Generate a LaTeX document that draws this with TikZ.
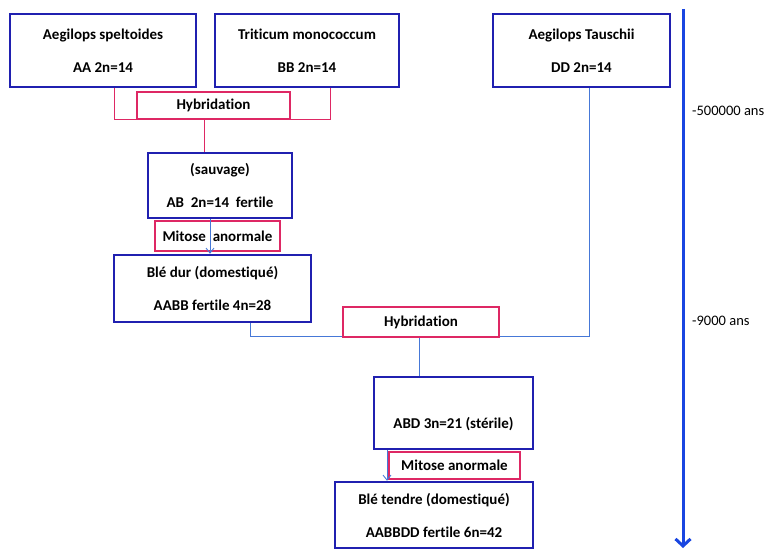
\documentclass[tikz,border=0pt]{standalone}
\usepackage{fontspec}
\setmainfont[RawFeature={-liga;-clig;-dlig}]{Carlito}
\usetikzlibrary{positioning,arrows.meta}

\definecolor{bleucadre}{RGB}{32,32,176}
\definecolor{rose}{RGB}{222,40,100}
\definecolor{bleulien}{RGB}{70,120,215}
\definecolor{bleuaxe}{RGB}{25,70,225}

\tikzset{
  espece/.style={draw=bleucadre,line width=2.4pt,align=center,inner sep=0pt,
    font=\bfseries\fontsize{15}{33}\selectfont},
  hybride/.style={draw=rose,line width=2.2pt,inner sep=0pt,font=\bfseries\fontsize{15}{16}\selectfont},
  mitose/.style={draw=rose,line width=1.2pt,inner sep=0pt,font=\bfseries\fontsize{15}{16}\selectfont},
  lienrose/.style={draw=rose,line width=0.8pt},
  lienbleu/.style={draw=bleulien,line width=0.9pt},
  epoque/.style={anchor=west,inner sep=0pt,font=\fontsize{14.5}{16}\selectfont},
}

\begin{document}
\begin{tikzpicture}[x=1pt,y=-1pt,>={Straight Barb[length=5pt,width=8pt]}]
  \useasboundingbox (0,0) rectangle (766,551);

  % especes de depart
  \node[espece,minimum width=186,minimum height=73] (speltoides) at (103,50.5) {Aegilops speltoides\\AA 2n=14};
  \node[espece,minimum width=184,minimum height=73] (monococcum) at (307,50.5) {Triticum monococcum\\BB 2n=14};
  \node[espece,minimum width=177,minimum height=73] (tauschii) at (581.5,50.5) {Aegilops Tauschii\\DD 2n=14};

  % premiere hybridation
  \node[hybride,minimum width=153,minimum height=27] (hyb1) at (213.5,105.5) {Hybridation};
  \node[espece,minimum width=144,minimum height=65] (sauvage) at (220,185.5) {(sauvage)\\AB\ \ 2n=14\ \ fertile};
  \node[mitose,minimum width=125,minimum height=30] (mitose1) at (217.5,236) {Mitose\ \ anormale};
  \node[espece,minimum width=197,minimum height=67] (dur) at (212.5,288.5) {Blé dur (domestiqué)\\AABB fertile 4n=28};

  % seconde hybridation
  \node[hybride,minimum width=156,minimum height=30] (hyb2) at (421,322) {Hybridation};
  \node[espece,minimum width=159,minimum height=72] (abd) at (453.5,413) {\mbox{}\\ABD 3n=21 (stérile)};
  \node[mitose,minimum width=131,minimum height=27] (mitose2) at (454.5,465.5) {Mitose anormale};
  \node[espece,minimum width=198,minimum height=66] (tendre) at (434,515) {Blé tendre (domestiqué)\\AABBDD fertile 6n=42};

  % axe du temps
  \coordinate (haut) at (683,9);
  \coordinate (bas) at (683,548);
  \draw[draw=bleuaxe,line width=3pt,-{Straight Barb[length=7pt,width=15pt,line width=3pt]}] (haut) -- (bas);
  \node[epoque] (t1) at (692,111) {-500000 ans};
  \node[epoque] (t2) at (692,321) {-9000 ans};

  % liens
  \draw[lienrose] ([xshift=11]speltoides.south) |- ([yshift=1]hyb1.south west);
  \draw[lienrose] ([xshift=23]monococcum.south) |- ([yshift=1]hyb1.south east);
  \draw[lienrose] ([xshift=-9.5]hyb1.south) -- ([xshift=-9.5]hyb1.south |- sauvage.north);
  \draw[lienbleu,->] ([xshift=-10]sauvage.south) -- ([xshift=-10]sauvage.south |- dur.north);
  \draw[lienbleu] ([xshift=37.5]dur.south) |- ([yshift=1.5]hyb2.south west);
  \draw[lienbleu] ([xshift=7.5]tauschii.south) |- ([yshift=1.5]hyb2.south east);
  \draw[lienbleu] ([xshift=-2]hyb2.south) -- ([xshift=-2]hyb2.south |- abd.north);
  \draw[lienbleu,->] ([xshift=-66.5]abd.south) -- ([xshift=-66.5]abd.south |- tendre.north);
\end{tikzpicture}
\end{document}
